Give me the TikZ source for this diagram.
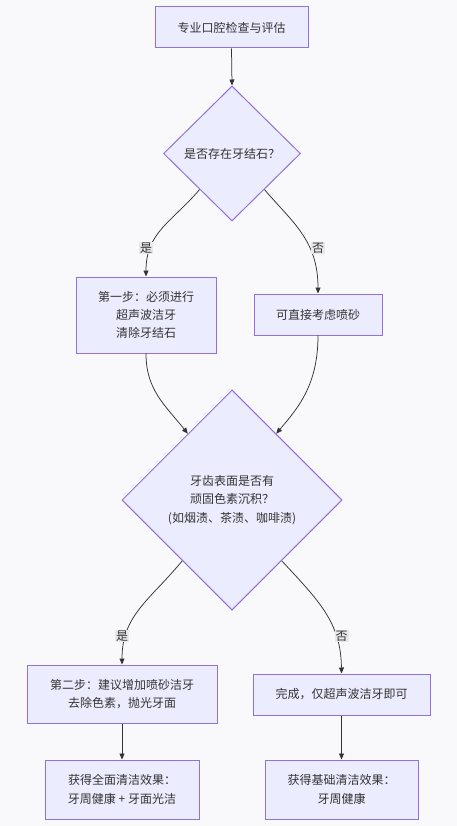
\documentclass[tikz,border=0pt]{standalone}
\usepackage{fontspec}
\setmainfont{Noto Sans CJK SC}
\usetikzlibrary{shapes.geometric,arrows.meta,calc}
\definecolor{bgc}{HTML}{F9F9FB}
\definecolor{nodefill}{HTML}{ECECFF}
\definecolor{nodeline}{HTML}{9370DB}
\definecolor{edgec}{HTML}{333333}
\definecolor{txt}{HTML}{333333}
\definecolor{lblbg}{HTML}{E8E8E8}
\begin{document}
\begin{tikzpicture}[x=1pt,y=-1pt,
  every node/.style={text=txt,font=\fontsize{12pt}{18.3pt}\selectfont},
  procbox/.style={draw=nodeline,fill=nodefill,line width=1pt,align=center,inner sep=0pt},
  decide/.style={diamond,draw=nodeline,fill=nodefill,line width=1pt,align=center,inner sep=0pt,aspect=1},
  flow/.style={draw=edgec,line width=0.75pt,-{Triangle[length=6pt,width=5pt]}},
  elabel/.style={fill=lblbg,inner sep=1pt}
]
\fill[bgc] (0,0) rectangle (457,826);
\useasboundingbox (0,0) rectangle (457,826);

\node[procbox,minimum width=153pt,minimum height=41pt] (n1) at (231.5,27.5) {专业口腔检查与评估};
\node[decide,minimum width=137pt,minimum height=135pt] (d1) at (232,153.5) {是否存在牙结石？};
\node[procbox,minimum width=140pt,minimum height=76pt] (n2) at (146,315) {第一步：必须进行\\超声波洁牙\\清除牙结石};
\node[procbox,minimum width=128pt,minimum height=41pt] (n3) at (318,314.5) {可直接考虑喷砂};
\node[decide,minimum width=220pt,minimum height=220pt] (d2) at (232,500) {牙齿表面是否有\\顽固色素沉积？\\(如烟渍、茶渍、咖啡渍)};
\node[procbox,minimum width=190pt,minimum height=58pt] (n4) at (122,694) {第二步：建议增加喷砂洁牙\\去除色素，抛光牙面};
\node[procbox,minimum width=177pt,minimum height=41pt] (n5) at (341.5,694.5) {完成，仅超声波洁牙即可};
\node[procbox,minimum width=154pt,minimum height=59pt] (n6) at (122,789.5) {获得全面清洁效果：\\牙周健康 + 牙面光洁};
\node[procbox,minimum width=153pt,minimum height=59pt] (n7) at (341.5,789.5) {获得基础清洁效果：\\牙周健康};

\draw[flow] (n1.south) -- (d1.north);
\draw[flow] ($(d1.west)!0.53!(d1.south)$) .. controls (172,222) and (146,232) .. (n2.north);
\draw[flow] ($(d1.east)!0.53!(d1.south)$) .. controls (292,222) and (318,240) .. (n3.north);
\draw[flow] (n2.south) .. controls (146,390) and (165,405) .. ($(d2.west)!0.6!(d2.north)$);
\draw[flow] (n3.south) .. controls (318,385) and (298,408) .. ($(d2.east)!0.6!(d2.north)$);
\draw[flow] ($(d2.west)!0.55!(d2.south)$) .. controls (150,600) and (122,615) .. (n4.north);
\draw[flow] ($(d2.east)!0.55!(d2.south)$) .. controls (318,600) and (341,622) .. (n5.north);
\draw[flow] (n4.south) -- (n6.north);
\draw[flow] (n5.south) -- (n7.north);

\node[elabel] (l1) at (146,248) {是};
\node[elabel] (l2) at (318,248) {否};
\node[elabel] (l3) at (122,636) {是};
\node[elabel] (l4) at (341.5,636) {否};
\end{tikzpicture}
\end{document}
